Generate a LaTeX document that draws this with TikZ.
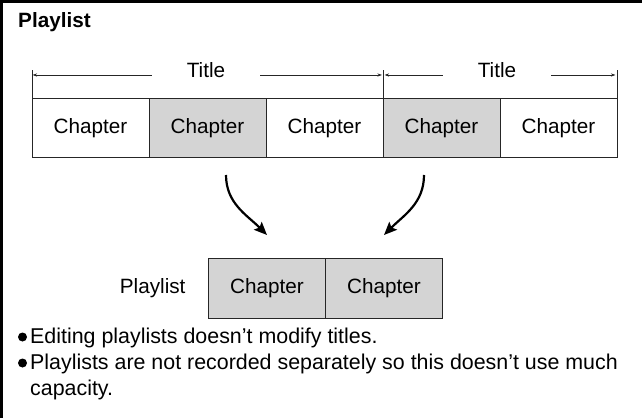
\documentclass[tikz,border=0pt]{standalone}
\usepackage{fontspec}
\setmainfont{Liberation Sans}
\usetikzlibrary{arrows.meta,positioning}

\colorlet{chapfill}{black!17}
\colorlet{chapline}{black!85}

\tikzset{
  txt/.style={font=\fontsize{20.7}{25}\selectfont},
  chapbox/.style={txt, draw=chapline, line width=1pt, minimum width=117pt,
    minimum height=59pt, inner sep=0pt, outer sep=0pt},
  titlelabel/.style={txt, inner xsep=35pt, inner ysep=0pt, text height=10pt, text depth=5pt},
  titlearrow/.style={-{Stealth[length=4.5pt,width=3pt]}, line width=0.7pt, chapline},
  copyarrow/.style={-{Stealth[length=13pt,width=11pt,inset=2.5pt]}, line width=2.2pt},
  note/.style={font=\fontsize{21.4}{26}\selectfont, anchor=base west, inner sep=0pt}
}

\begin{document}
\begin{tikzpicture}[x=1pt, y=1pt]
    \useasboundingbox (0,0) rectangle (642,418);
    % frame
    \draw[line width=3pt](1.5,0)--(1.5,416.5)--(642,416.5);
    \node[note, font=\bfseries\fontsize{20.7}{25}\selectfont] (head) at (18,390){Playlist};
    % the titles and their chapters
    \foreach \i/\f in {1/white,2/chapfill,3/white,4/chapfill,5/white}{%
      \node[chapbox, fill=\f, anchor=west] (c\i) at ({32+117*(\i-1)},289.5){Chapter};}
    \draw[line width=0.7pt, chapline](c1.north west)--++(0,29);
    \draw[line width=0.7pt, chapline](c3.north east)--++(0,29);
    \draw[line width=0.7pt, chapline](c5.north east)--++(0,29);
    \node[titlelabel] (t1) at (206,343){Title};
    \node[titlelabel] (t2) at (497,343){Title};
    \draw[titlearrow, shorten >=0.5pt](t1.west)--(t1.west -| c1.north west);
    \draw[titlearrow, shorten >=1pt](t1.east)--(t1.east -| c3.north east);
    \draw[titlearrow, shorten >=1.5pt](t2.west)--(t2.west -| c3.north east);
    \draw[titlearrow, shorten >=1.5pt](t2.east)--(t2.east -| c5.north east);
    % the playlist
    \node[chapbox, fill=chapfill, minimum height=60pt, anchor=west] (p1) at (208.5,130){Chapter};
    \node[chapbox, fill=chapfill, minimum height=60pt, right=0pt of p1] (p2){Chapter};
    \node[txt, left=19.5pt of p1] (plist){Playlist};
    \draw[copyarrow]([xshift=18.5pt, yshift=-17pt]c2.south) to[out=-90, in=135] ([yshift=23pt]p1.north);
    \draw[copyarrow]([xshift=-17.5pt, yshift=-17pt]c4.south) to[out=-90, in=45] ([yshift=23pt]p2.north);
    % notes
    \node[note] (b1) at (30,75){Editing playlists doesn’t modify titles.};
    \node[note] (b2) at (30,49){Playlists are not recorded separately so this doesn’t use much};
    \node[note] (b3) at (30,23){capacity.};
    \fill([xshift=-7.5pt, yshift=6pt]b1.base west) circle(4.5pt);
    \fill([xshift=-7.5pt, yshift=6pt]b2.base west) circle(4.5pt);
  \end{tikzpicture}
\end{document}
